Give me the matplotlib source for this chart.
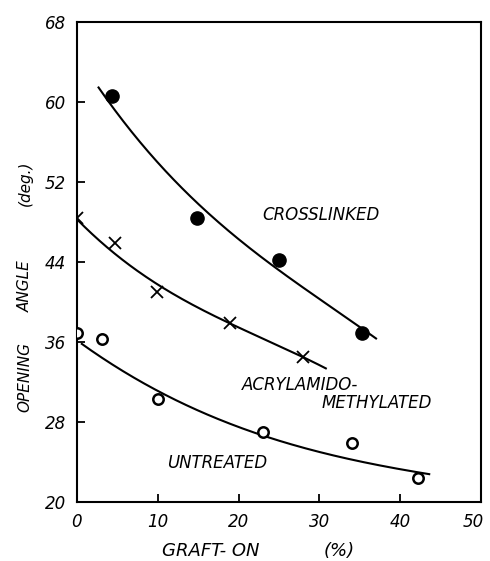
import numpy as np
import matplotlib
matplotlib.use("Agg")
import matplotlib.pyplot as plt
from matplotlib.transforms import ScaledTranslation

# Measured opening angles (deg.) versus graft-on (%)
crosslinked_x = [4.3, 14.8, 25.0, 35.3]
crosslinked_y = [60.6, 48.4, 44.2, 36.9]

acryl_x = [0.0, 4.7, 9.9, 18.9, 28.0]
acryl_y = [48.4, 45.9, 41.0, 37.9, 34.5]

untreated_x = [0.0, 3.1, 10.0, 23.0, 34.0, 42.2]
untreated_y = [36.9, 36.3, 30.3, 27.0, 25.9, 22.4]

# Hand-drawn trend curves (traced points along each curve)
crosslinked_curve_x = [2.6, 4.5, 9.0, 21.4, 33.8, 37.1]
crosslinked_curve_y = [61.5, 59.5, 54.7, 45.5, 38.0, 36.4]

acryl_curve_x = [0.0, 4.1, 9.4, 13.7, 18.9, 28.0, 30.9]
acryl_curve_y = [48.2, 45.4, 41.9, 40.0, 37.9, 34.5, 33.3]

untreated_curve_x = [0.5, 10.3, 22.6, 27.6, 33.8, 43.7]
untreated_curve_y = [35.9, 30.9, 26.9, 25.5, 24.2, 22.8]

x_ticks = [0, 10, 20, 30, 40, 50]
y_ticks = [20, 28, 36, 44, 52, 60, 68]

FONT = dict(family="DejaVu Sans", style="oblique")

fig = plt.figure(figsize=(4.90, 5.61), dpi=100)
ax = fig.add_axes([0.157, 0.105, 0.825, 0.856])


def smooth_curve(xs, ys, deg=3, n=200):
    coef = np.polyfit(xs, ys, deg)
    xx = np.linspace(min(xs), max(xs), n)
    return xx, np.polyval(coef, xx)


for cx, cy in [(crosslinked_curve_x, crosslinked_curve_y),
               (acryl_curve_x, acryl_curve_y),
               (untreated_curve_x, untreated_curve_y)]:
    xx, yy = smooth_curve(cx, cy)
    ax.plot(xx, yy, color="black", lw=1.5, solid_capstyle="butt", zorder=2)

ax.plot(crosslinked_x, crosslinked_y, "o", ms=9.5, color="black", zorder=3)
ax.plot(acryl_x, acryl_y, "x", ms=8, mew=1.3, color="black", zorder=3)
ax.plot(untreated_x, untreated_y, "o", ms=7.5, mfc="white", mec="black",
        mew=1.8, zorder=3)

ax.set_xlim(0, 50)
ax.set_ylim(20, 68)
ax.set_xticks(x_ticks)
ax.set_yticks(y_ticks)
ax.set_xticklabels([str(v) for v in x_ticks], **FONT, fontsize=12)
ax.set_yticklabels([str(v) for v in y_ticks], **FONT, fontsize=12)
ax.tick_params(direction="in", length=6, width=1.3, pad=8, top=False, right=False)
for s in ax.spines.values():
    s.set_linewidth(1.5)

# keep the last x tick label inside the figure
last = ax.get_xticklabels()[-1]
last.set_transform(last.get_transform() +
                   ScaledTranslation(-8 / 100, 0, fig.dpi_scale_trans))

ax.text(22.9, 48.7, "CROSSLINKED", **FONT, fontsize=12, va="center", ha="left")
ax.text(20.4, 31.7, "ACRYLAMIDO-", **FONT, fontsize=12, va="center", ha="left")
ax.text(30.3, 29.9, "METHYLATED", **FONT, fontsize=12, va="center", ha="left")
ax.text(11.1, 23.9, "UNTREATED", **FONT, fontsize=12, va="center", ha="left")

fig.text(211 / 490, 1 - 551 / 561, "GRAFT- ON", **FONT, fontsize=13,
         ha="center", va="center")
fig.text(339 / 490, 1 - 551 / 561, "(%)", **FONT, fontsize=13,
         ha="center", va="center")

for label, yc in [("(deg.)", 183), ("ANGLE", 286), ("OPENING", 377)]:
    fig.text(25 / 490, 1 - yc / 561, label, **FONT, fontsize=11,
             ha="center", va="center", rotation=90)

fig.savefig("out.png", dpi=100)
